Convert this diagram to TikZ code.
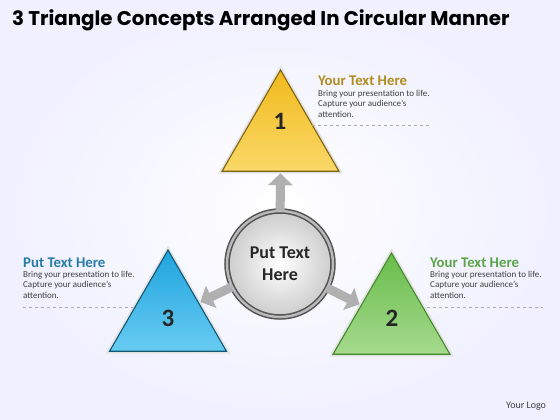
\documentclass[tikz,border=0pt]{standalone}
\usepackage{fontspec}
\setmainfont{Carlito}
\newfontfamily\titlefont{Poppins}
\usetikzlibrary{arrows.meta}
\usetikzlibrary{shapes.geometric}
\definecolor{goldhead}{RGB}{178,140,30}
\definecolor{bluehead}{RGB}{38,124,166}
\definecolor{greenhead}{RGB}{92,164,72}
\definecolor{yellowtop}{RGB}{240,186,28}
\definecolor{yellowbot}{RGB}{250,216,104}
\definecolor{yellowline}{RGB}{128,98,18}
\definecolor{bluetop}{RGB}{30,164,222}
\definecolor{bluebot}{RGB}{104,204,242}
\definecolor{blueline}{RGB}{18,88,118}
\definecolor{greentop}{RGB}{104,188,74}
\definecolor{greenbot}{RGB}{166,218,142}
\definecolor{greenline}{RGB}{70,138,48}

\begin{document}
\begin{tikzpicture}[x=1pt,y=-1pt,
    tri/.style = {regular polygon, regular polygon sides=3, minimum size=135pt, inner sep=0pt, outer sep=0pt, line width=1.1pt, preaction={draw=gray!22, line width=4.5pt}},
    num/.style = {font=\fontsize{25}{25}\selectfont\bfseries, text=black!85},
    head/.style = {font=\fontsize{14.8}{16}\selectfont\bfseries, anchor=base west, inner sep=0pt},
    body/.style = {font=\fontsize{9}{10.5}\selectfont, text=black!75, align=left, anchor=north west, inner sep=0pt},
    link/.style = {line width=9pt, draw=gray!62, shorten >=2pt, -{Triangle[width=24pt,length=12pt]}},
    sep/.style = {dashed, draw=gray!65, line width=0.6pt}]
        \shade[inner color=white, outer color=blue!6] (0,0) rectangle (560,420);
        \useasboundingbox (0,0) rectangle (560,420);
        \node[anchor=base west, inner sep=0pt, font=\titlefont\fontsize{19.8}{22}\selectfont\bfseries] (title) at (12,26) {3 Triangle Concepts Arranged In Circular Manner};
        \begin{scope}[every node/.style={tri}]
            \node[top color=yellowtop, bottom color=yellowbot, draw=yellowline] (t1) at (280.5,137.5) {};
            \node[top color=greentop, bottom color=greenbot, draw=greenline] (t2) at (391.5,320.5) {};
            \node[top color=bluetop, bottom color=bluebot, draw=blueline] (t3) at (168,317.5) {};
        \end{scope}
        \node[num] (n1) at (280,121) {1};
        \node[num] (n2) at (392,318) {2};
        \node[num] (n3) at (168,318) {3};
        \node[circle, minimum size=106pt, draw=black!68, line width=1.5pt, double=gray!55, double distance=2.5pt, inner color=white, outer color=gray!40, align=center, text=black!85, font=\fontsize{18}{22}\selectfont\bfseries] (hub) at (280,264) {Put Text\\Here};
        \draw[link] (hub) -- (t1);
        \draw[link] (hub) -- (t2);
        \draw[link] (hub) -- (t3);
        \node[head, text=goldhead] (h1) at (318,86) {Your Text Here};
        \node[body] (b1) at (318,90) {Bring your presentation to life.\\Capture your audience's\\attention.};
        \node[head, text=greenhead] (h2) at (430,267) {Your Text Here};
        \node[body] (b2) at (430,271) {Bring your presentation to life.\\Capture your audience's\\attention.};
        \node[head, text=bluehead] (h3) at (23,267) {Put Text Here};
        \node[body] (b3) at (23,271) {Bring your presentation to life.\\Capture your audience's\\attention.};
        \draw[sep] (312,125.5) -- (430,125.5);
        \draw[sep] (427,307) -- (543,307);
        \draw[sep] (23,307) -- (133,307);
        \node[anchor=base west, inner sep=0pt, font=\fontsize{10}{12}\selectfont, text=black!75] (logo) at (506,408) {Your Logo};
\end{tikzpicture}
\end{document}
